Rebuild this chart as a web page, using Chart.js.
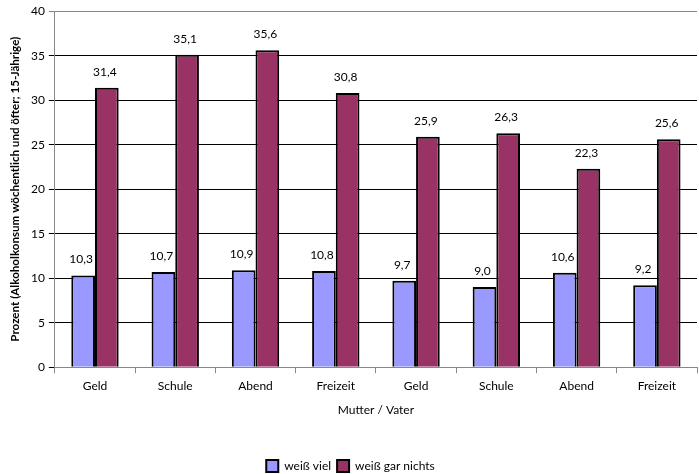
<!DOCTYPE html>
<html>
<head>
<meta charset="utf-8">
<script src="https://cdn.jsdelivr.net/npm/chart.js@4/dist/chart.umd.min.js"></script>
<style>
  html, body { margin: 0; padding: 0; background: #fff; }
  #wrap { width: 699px; height: 474px; }
</style>
</head>
<body>
<div id="wrap"><canvas id="chart" width="699" height="474"></canvas></div>
<script>
const categories = ["Geld", "Schule", "Abend", "Freizeit", "Geld", "Schule", "Abend", "Freizeit"];
const weissViel = [10.3, 10.7, 10.9, 10.8, 9.7, 9.0, 10.6, 9.2];
const weissGarNichts = [31.4, 35.1, 35.6, 30.8, 25.9, 26.3, 22.3, 25.6];
const yTicks = [0, 5, 10, 15, 20, 25, 30, 35, 40];

const FONT = "Lato, 'Open Sans', sans-serif";

// value labels above each bar, German decimal comma
const barLabels = {
  id: "barLabels",
  afterDatasetsDraw(chart) {
    const ctx = chart.ctx;
    ctx.save();
    ctx.font = "12px " + FONT;
    ctx.fillStyle = "#000";
    ctx.textAlign = "center";
    ctx.textBaseline = "bottom";
    chart.data.datasets.forEach((ds, i) => {
      chart.getDatasetMeta(i).data.forEach((bar, j) => {
        const txt = ds.data[j].toFixed(1).replace(".", ",");
        ctx.fillText(txt, bar.x - 2, bar.y - 10);
      });
    });
    ctx.restore();
  }
};

new Chart(document.getElementById("chart"), {
  type: "bar",
  data: {
    labels: categories,
    datasets: [
      {
        label: "weiß viel",
        data: weissViel,
        backgroundColor: "#9999FF",
        borderColor: "#000",
        borderWidth: 2,
      },
      {
        label: "weiß gar nichts",
        data: weissGarNichts,
        backgroundColor: "#993366",
        borderColor: "#000",
        borderWidth: 2,
      },
    ],
  },
  options: {
    responsive: false,
    animation: false,
    layout: { padding: { top: 10, right: 2, left: 4, bottom: -8 } },
    datasets: {
      bar: { categoryPercentage: 0.59, barPercentage: 1.0 },
    },
    scales: {
      x: {
        grid: {
          drawOnChartArea: false,
          color: "#888",
          tickLength: 6,
        },
        border: { color: "#888" },
        ticks: { color: "#000", font: { family: FONT, size: 12 }, padding: 6 },
        title: {
          display: true,
          text: "Mutter / Vater",
          color: "#000",
          font: { family: FONT, size: 12 },
          padding: { top: 3, bottom: 37 },
        },
      },
      y: {
        min: 0,
        max: 40,
        afterBuildTicks(axis) {
          axis.ticks = yTicks.map((v) => ({ value: v }));
        },
        grid: {
          color: (c) => (c.tick && c.tick.value === 40 ? "#888" : "#000"),
          lineWidth: 1,
          tickLength: 6,
        },
        border: { color: "#888" },
        ticks: { color: "#000", font: { family: FONT, size: 12 }, padding: 4 },
        title: {
          display: true,
          text: "Prozent (Alkoholkonsum wöchentlich und öfter; 15-Jährige)",
          color: "#000",
          font: { family: FONT, size: 11.6, weight: "bold" },
          padding: { bottom: 5 },
        },
      },
    },
    plugins: {
      tooltip: { enabled: false },
      legend: {
        position: "bottom",
        labels: {
          color: "#000",
          font: { family: FONT, size: 12 },
          boxWidth: 12,
          boxHeight: 12,
          padding: 6,
          useBorderRadius: false,
        },
      },
    },
  },
  plugins: [barLabels],
});
</script>
</body>
</html>
